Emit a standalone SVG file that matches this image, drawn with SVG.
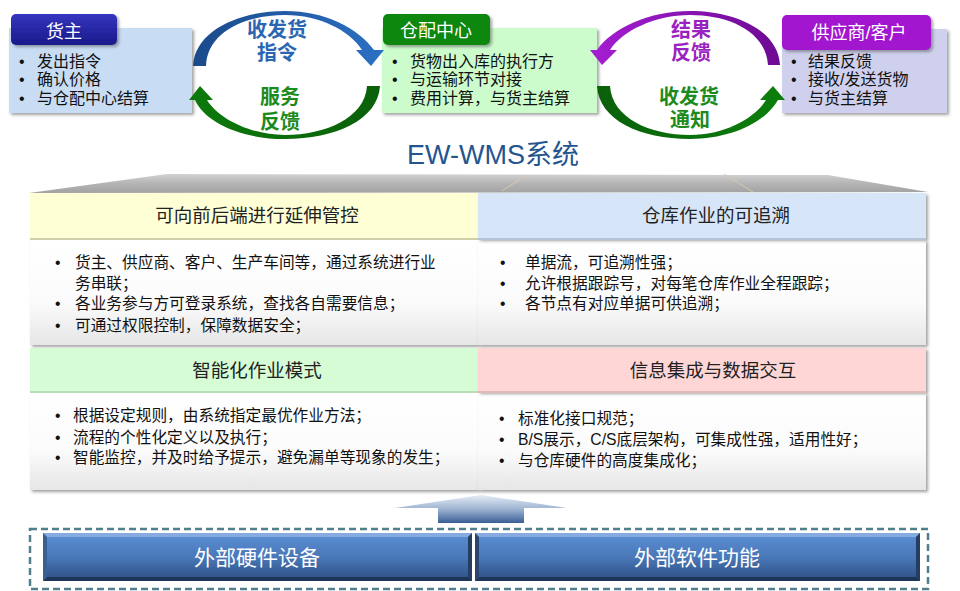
<svg xmlns="http://www.w3.org/2000/svg" width="960" height="591" viewBox="0 0 960 591">
<defs>
<style>
text{font-family:"Liberation Sans","Noto Sans CJK SC",sans-serif}
.b{font-size:16px;fill:#111}
.pb{font-size:15.7px;fill:#111}
.ht{font-size:18.5px;fill:#222;text-anchor:middle}
.tab{font-size:18px;fill:#fff;text-anchor:middle}
.al{font-size:20px;font-weight:bold;text-anchor:middle}
.bt{font-size:21px;fill:#fff;text-anchor:middle}
</style>
<filter id="sh" x="-5%" y="-5%" width="115%" height="130%">
<feDropShadow dx="2" dy="2" stdDeviation="1.5" flood-color="#555" flood-opacity="0.55"/>
</filter>
<linearGradient id="blueArc" x1="0" y1="0" x2="1" y2="0"><stop offset="0" stop-color="#1a4a8a"/><stop offset="1" stop-color="#2c70c4"/></linearGradient>
<linearGradient id="greenArc" x1="0" y1="0" x2="1" y2="0"><stop offset="0" stop-color="#0c7a0c"/><stop offset="1" stop-color="#0a600a"/></linearGradient>
<linearGradient id="greenArc2" x1="0" y1="0" x2="1" y2="0"><stop offset="0" stop-color="#0a600a"/><stop offset="1" stop-color="#0c7f0c"/></linearGradient>
<linearGradient id="purpArc" x1="0" y1="0" x2="1" y2="0"><stop offset="0" stop-color="#a41ed2"/><stop offset="1" stop-color="#6e0a92"/></linearGradient>
<linearGradient id="tabBlue" x1="0" y1="0" x2="0" y2="1"><stop offset="0" stop-color="#3535c0"/><stop offset="1" stop-color="#1a1a8a"/></linearGradient>
<linearGradient id="trap" x1="0" y1="0" x2="0" y2="1"><stop offset="0" stop-color="#d2d2d2"/><stop offset="0.5" stop-color="#b4b4b4"/><stop offset="1" stop-color="#a2a2a2"/></linearGradient>
<linearGradient id="body" x1="0" y1="0" x2="0" y2="1"><stop offset="0" stop-color="#ffffff"/><stop offset="0.6" stop-color="#fbfbfb"/><stop offset="1" stop-color="#e6e6e6"/></linearGradient>
<linearGradient id="upArr" x1="0" y1="0" x2="0" y2="1"><stop offset="0" stop-color="#e4ecf6"/><stop offset="0.5" stop-color="#9fb4d2"/><stop offset="1" stop-color="#3a5f95"/></linearGradient>
<linearGradient id="btn" x1="0" y1="0" x2="0" y2="1"><stop offset="0" stop-color="#5c8fd6"/><stop offset="0.5" stop-color="#4a78b8"/><stop offset="1" stop-color="#2c4f82"/></linearGradient>
</defs>

<!-- top boxes -->
<g id="huozhu">
<rect x="9" y="28" width="183" height="85" fill="#c8ddf4" filter="url(#sh)"/>
<rect x="11" y="14" width="106" height="31" rx="5" fill="url(#tabBlue)" filter="url(#sh)"/>
<text class="tab" x="64" y="38">货主</text>
<text class="b" x="19" y="67">•</text><text class="b" x="37" y="67">发出指令</text>
<text class="b" x="19" y="85">•</text><text class="b" x="37" y="85">确认价格</text>
<text class="b" x="19" y="104">•</text><text class="b" x="37" y="104">与仓配中心结算</text>
</g>
<g id="cangpei">
<rect x="382" y="28" width="215" height="85" fill="#ccfccc" filter="url(#sh)"/>
<rect x="383" y="14" width="107" height="31" rx="5" fill="#0b870b" filter="url(#sh)"/>
<text class="tab" x="436" y="37">仓配中心</text>
<text class="b" x="392" y="67">•</text><text class="b" x="410" y="67">货物出入库的执行方</text>
<text class="b" x="392" y="85">•</text><text class="b" x="410" y="85">与运输环节对接</text>
<text class="b" x="392" y="104">•</text><text class="b" x="410" y="104">费用计算，与货主结算</text>
</g>
<g id="gongying">
<rect x="782" y="29" width="165" height="84" fill="#cfd0ee" filter="url(#sh)"/>
<rect x="782" y="15" width="149" height="35" rx="5" fill="#a212cf" filter="url(#sh)"/>
<text class="tab" x="859" y="39">供应商/客户</text>
<text class="b" x="791" y="67">•</text><text class="b" x="808" y="67">结果反馈</text>
<text class="b" x="791" y="85">•</text><text class="b" x="808" y="85">接收/发送货物</text>
<text class="b" x="791" y="104">•</text><text class="b" x="808" y="104">与货主结算</text>
</g>

<!-- connectors (curved arrows) -->
<g id="connectors">
<path d="M193,66 C195,30 240,11 285,11 C325,11 358,28 374,50 L384,50 L371,66 L356,50 L362,50 C350,31 320,15 285,15 C245,15 207,32 206,66 Z" fill="url(#blueArc)"/>
<path d="M380,86 C378,120 335,139 285,139 C240,139 205,122 195,100 L189,100 L200,86 L213,100 L207,100 C218,118 250,135 285,135 C325,135 365,118 367,86 Z" fill="url(#greenArc)"/>
<path d="M780,65 C778,30 735,11 690,11 C650,11 612,28 597,50 L590,50 L602,65 L617,50 L610,50 C622,31 655,15 690,15 C730,15 766,32 768,65 Z" fill="url(#purpArc)"/>
<path d="M597,86 C599,120 640,139 690,139 C730,139 765,123 778,100 L785,100 L773,86 L760,100 L766,100 C755,118 725,135 690,135 C650,135 612,118 610,86 Z" fill="url(#greenArc2)"/>
<text class="al" x="277" y="37" fill="#2a66b2">收发货</text>
<text class="al" x="277" y="60" fill="#2a66b2">指令</text>
<text class="al" x="280" y="104" fill="#1c8a1c">服务</text>
<text class="al" x="280" y="129" fill="#1c8a1c">反馈</text>
<text class="al" x="691" y="37" fill="#9a22c2">结果</text>
<text class="al" x="691" y="60" fill="#9a22c2">反馈</text>
<text class="al" x="689" y="104" fill="#1c8a1c">收发货</text>
<text class="al" x="690" y="127" fill="#1c8a1c">通知</text>
</g>

<!-- title -->
<g id="title">
<text x="493" y="164" font-size="27" fill="#24558f" text-anchor="middle" textLength="172" lengthAdjust="spacingAndGlyphs">EW-WMS系统</text>
</g>

<!-- gray top -->
<g id="top">
<polygon points="29,193 167,174 828,175 928,192" fill="url(#trap)"/>
<line x1="527" y1="175" x2="502" y2="191" stroke="#d9c7b0" stroke-width="1"/>
<line x1="724" y1="174" x2="753" y2="192" stroke="#d9c7b0" stroke-width="1"/>
</g>

<!-- panels -->
<g id="p1">
<rect x="30" y="240" width="448" height="105" fill="url(#body)" filter="url(#sh)"/>
<rect x="30" y="193" width="448" height="46" fill="#ffffd6"/>
<line x1="30" y1="239" x2="478" y2="239" stroke="#cfcfaa" stroke-width="2"/>
<text class="ht" x="257" y="222">可向前后端进行延伸管控</text>
<text class="pb" x="55" y="268">•</text><text class="pb" x="75" y="268">货主、供应商、客户、生产车间等，通过系统进行业</text>
<text class="pb" x="75" y="289">务串联；</text>
<text class="pb" x="55" y="309">•</text><text class="pb" x="75" y="309">各业务参与方可登录系统，查找各自需要信息；</text>
<text class="pb" x="55" y="331">•</text><text class="pb" x="75" y="331">可通过权限控制，保障数据安全；</text>
</g>
<g id="p2">
<rect x="478" y="240" width="448" height="105" fill="url(#body)" filter="url(#sh)"/>
<rect x="478" y="193" width="448" height="46" fill="#d6e6f8" filter="url(#sh)"/>
<line x1="478" y1="239" x2="926" y2="239" stroke="#b4c4d6" stroke-width="2"/>
<text class="ht" x="716" y="222">仓库作业的可追溯</text>
<text class="pb" x="500" y="268">•</text><text class="pb" x="525" y="268">单据流，可追溯性强；</text>
<text class="pb" x="500" y="289">•</text><text class="pb" x="525" y="289">允许根据跟踪号，对每笔仓库作业全程跟踪；</text>
<text class="pb" x="500" y="309">•</text><text class="pb" x="525" y="309">各节点有对应单据可供追溯；</text>
</g>
<g id="p3">
<rect x="30" y="393" width="448" height="97" fill="url(#body)" filter="url(#sh)"/>
<rect x="30" y="348" width="448" height="44" fill="#d6fcd6"/>
<line x1="30" y1="392" x2="478" y2="392" stroke="#b8dcb8" stroke-width="2"/>
<text class="ht" x="257" y="377">智能化作业模式</text>
<text class="pb" x="55" y="421">•</text><text class="pb" x="73" y="421">根据设定规则，由系统指定最优作业方法；</text>
<text class="pb" x="55" y="443">•</text><text class="pb" x="73" y="443">流程的个性化定义以及执行；</text>
<text class="pb" x="55" y="463">•</text><text class="pb" x="73" y="463">智能监控，并及时给予提示，避免漏单等现象的发生；</text>
</g>
<g id="p4">
<rect x="478" y="393" width="448" height="97" fill="url(#body)" filter="url(#sh)"/>
<rect x="478" y="348" width="448" height="44" fill="#ffd6d6" filter="url(#sh)"/>
<line x1="478" y1="392" x2="926" y2="392" stroke="#e2baba" stroke-width="2"/>
<text class="ht" x="713" y="377">信息集成与数据交互</text>
<text class="pb" x="499" y="424">•</text><text class="pb" x="518" y="424">标准化接口规范；</text>
<text class="pb" x="499" y="445">•</text><text class="pb" x="518" y="445">B/S展示，C/S底层架构，可集成性强，适用性好；</text>
<text class="pb" x="499" y="466">•</text><text class="pb" x="518" y="466">与仓库硬件的高度集成化；</text>
</g>

<!-- up arrow -->
<g id="uparrow">
<polygon points="395,508 481,495 567,508 524,508 524,523 438,523 438,508" fill="url(#upArr)"/>
</g>

<!-- bottom -->
<g id="external">
<rect x="30" y="529" width="898" height="60" fill="none" stroke="#4f7f8c" stroke-width="2.5" stroke-dasharray="7,4"/>
</g>
<g id="hw">
<rect x="43" y="533" width="429" height="48" fill="url(#btn)"/>
<polygon points="43,533 472,533 468,537 47,537" fill="#86abe0"/>
<polygon points="43,581 472,581 468,577 47,577" fill="#1d3658"/>
<polygon points="43,533 47,537 47,577 43,581" fill="#3a5f92"/>
<polygon points="472,533 468,537 468,577 472,581" fill="#243e63"/>
<text class="bt" x="257" y="565">外部硬件设备</text>
</g>
<g id="sw">
<rect x="475" y="533" width="445" height="48" fill="url(#btn)"/>
<polygon points="475,533 920,533 916,537 479,537" fill="#86abe0"/>
<polygon points="475,581 920,581 916,577 479,577" fill="#1d3658"/>
<polygon points="475,533 479,537 479,577 475,581" fill="#2a4570"/>
<polygon points="920,533 916,537 916,577 920,581" fill="#243e63"/>
<text class="bt" x="697" y="565">外部软件功能</text>
</g>
</svg>
